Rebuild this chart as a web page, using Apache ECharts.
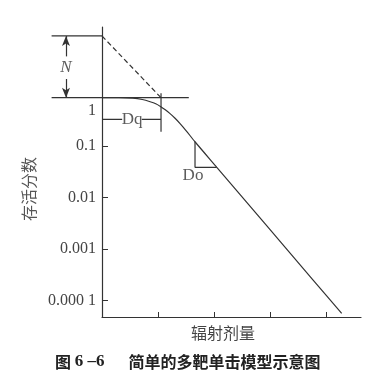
<!DOCTYPE html>
<html><head><meta charset="utf-8">
<script src="https://cdn.jsdelivr.net/npm/echarts@6/dist/echarts.min.js"></script>
<style>html,body{margin:0;padding:0;background:#fff}#c{width:384px;height:384px}</style>
</head><body><div id="c"></div>
<script>
// ---- data ----
const yTickValues = [0.0001, 0.001, 0.01, 0.1, 1];
const yTickLabels = ['0.000 1', '0.001', '0.01', '0.1', '1'];
const xTickValues = [1, 2, 3, 4];
// survival curve (dose, surviving fraction)
const curveDose = [0, 0.3, 0.55, 0.72, 0.86, 0.96, 1.05, 1.13, 1.21, 1.3, 1.39, 1.5, 1.66, 2.05, 3.77, 4.28];
const curveSurv = [0.867, 0.867, 0.85, 0.80, 0.725, 0.66, 0.58, 0.505, 0.43, 0.35, 0.276, 0.2, 0.121, 0.0386, 0.00025, 0.0000564];
const nLevel = 13.7;          // extrapolation number N
const shoulderLevel = 0.867;  // level labelled 1
const dqDose = 1.054;         // quasi-threshold dose
const dqArrowLevel = 0.33;
const doPoint = [1.661, 0.121];
const doCorner = [1.661, 0.0386];
const doEnd = [2.048, 0.0386];
const lineLeft = -0.9;
const shoulderRight = 1.55;
const nArrowX = -0.643;
const xAxisName = '辐射剂量';
const yAxisName = '存活分数';
const captionFig = '图 ';
const captionNum = '6 –6';
const captionText = '简单的多靶单击模型示意图';

const ink = '#333';
const serif = '"Liberation Serif", "DejaVu Serif", serif';
const cjk = '"Noto Sans CJK SC", sans-serif';
const Y_MIN = 0.0000479, Y_MAX = 20.46;

// annotation series live on grid 1 (same scale, extended to the left of the y axis)
const seg = (pts, extra) => Object.assign({
  type: 'line', data: pts, xAxisIndex: 1, yAxisIndex: 1, showSymbol: false, symbol: 'none',
  lineStyle: { color: ink, width: 1.2 }, silent: true, animation: false
}, extra || {});

const labelPt = (x, y, text, style) => ({
  type: 'scatter', xAxisIndex: 1, yAxisIndex: 1, symbolSize: 0, silent: true, animation: false,
  data: [[x, y]],
  label: Object.assign({ show: true, position: 'inside', formatter: text, color: ink, fontFamily: serif, fontSize: 16 }, style || {})
});

const chart = echarts.init(document.getElementById('c'), null, { renderer: 'canvas' });
chart.setOption({
  animation: false,
  backgroundColor: '#fff',
  title: {
    text: '{a|' + captionFig + '}{b|' + captionNum + '}{c|' + captionText + '}',
    left: 55, top: 353, padding: 0,
    textStyle: {
      fontFamily: cjk, fontSize: 16, fontWeight: 'bold', color: '#222',
      rich: {
        a: { fontFamily: cjk, fontSize: 16, fontWeight: 'bold', color: '#222' },
        b: { fontFamily: serif, fontSize: 17, fontWeight: 'bold', color: '#222' },
        c: { fontFamily: cjk, fontSize: 16, fontWeight: 'bold', color: '#222', padding: [0, 0, 0, 24] }
      }
    }
  },
  grid: [
    { left: 102, top: 27, right: 23, bottom: 67, containLabel: false },
    { left: 46, top: 27, right: 23, bottom: 67, containLabel: false }
  ],
  xAxis: [{
    type: 'value', min: 0, max: 4.625, gridIndex: 0,
    axisLine: { lineStyle: { color: ink, width: 1.2 } },
    axisTick: { show: true, inside: true, length: 5, customValues: xTickValues, lineStyle: { color: ink } },
    axisLabel: { show: false },
    splitLine: { show: false },
    name: xAxisName, nameLocation: 'middle', nameGap: 8,
    nameTextStyle: { fontFamily: cjk, fontSize: 16, color: '#444', padding: [0, 17, 0, 0], verticalAlign: 'top' }
  }, {
    type: 'value', min: -1, max: 4.625, gridIndex: 1, show: false
  }],
  yAxis: [{
    type: 'log', min: Y_MIN, max: Y_MAX, logBase: 10, gridIndex: 0,
    axisLine: { show: true, lineStyle: { color: ink, width: 1.2 } },
    axisTick: { show: true, inside: true, length: 6, customValues: yTickValues.slice(0, 4), lineStyle: { color: ink } },
    axisLabel: {
      customValues: yTickValues, margin: 6,
      fontFamily: serif, fontSize: 16, color: '#444',
      formatter: function (v) {
        const i = yTickValues.findIndex(t => Math.abs(Math.log10(t) - Math.log10(v)) < 1e-6);
        const s = i >= 0 ? yTickLabels[i] : '';
        return i === 4 ? '{one|' + s + '}' : s;
      },
      rich: { one: { fontFamily: serif, fontSize: 16, color: '#444', padding: [32, 0, 0, 0] } }
    },
    splitLine: { show: false },
    name: yAxisName, nameLocation: 'middle', nameGap: 46, nameRotate: 90,
    nameTextStyle: { fontFamily: cjk, fontSize: 16, color: '#555', padding: [0, 34, 0, 0] }
  }, {
    type: 'log', min: Y_MIN, max: Y_MAX, logBase: 10, gridIndex: 1, show: false
  }],
  series: [
    { type: 'line', xAxisIndex: 0, yAxisIndex: 0, data: curveDose.map((d, i) => [d, curveSurv[i]]),
      smooth: 0.25, showSymbol: false, symbol: 'none', silent: true, animation: false,
      lineStyle: { color: ink, width: 1.2 } },
    seg([[lineLeft, nLevel], [0, nLevel]]),
    seg([[lineLeft, shoulderLevel], [shoulderRight, shoulderLevel]]),
    seg([[0, nLevel], [dqDose, shoulderLevel]], { lineStyle: { color: ink, width: 1.2, type: [5, 3] } }),
    seg([[dqDose, 1.055], [dqDose, 0.19]]),
    seg([[0, dqArrowLevel], [0.36, dqArrowLevel]]),
    seg([[0.71, dqArrowLevel], [dqDose, dqArrowLevel]]),
    seg([doPoint, doCorner, doEnd]),
    seg([[nArrowX, 5.5], [nArrowX, 2.0]], {
      markLine: {
        silent: true, animation: false, symbol: ['none', 'arrow'], symbolSize: [6, 10],
        label: { show: false }, lineStyle: { color: ink, width: 1.2, type: 'solid' },
        data: [
          [{ coord: [nArrowX, 5.5] }, { coord: [nArrowX, nLevel] }],
          [{ coord: [nArrowX, 2.0] }, { coord: [nArrowX, shoulderLevel] }]
        ]
      },
      lineStyle: { opacity: 0 }
    }),
    labelPt(nArrowX, 3.31, 'N', { fontStyle: 'italic', fontSize: 17 }),
    labelPt(0.536, dqArrowLevel, 'Dq', { fontSize: 17 }),
    labelPt(1.625, 0.0265, 'Do', { fontSize: 17 })
  ]
});
</script></body></html>
